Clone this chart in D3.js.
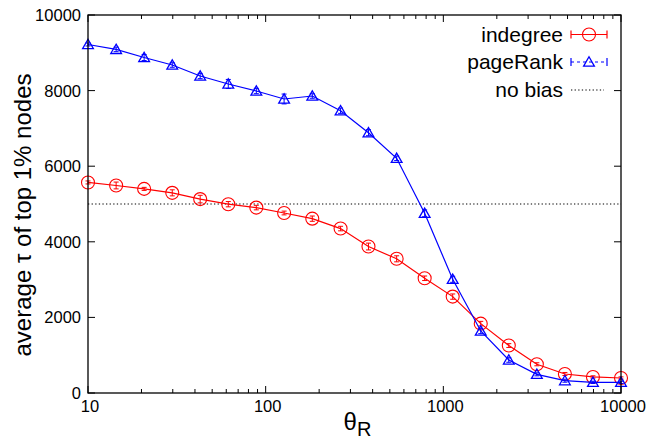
<!DOCTYPE html>
<html>
<head>
<meta charset="utf-8">
<script src="https://cdn.jsdelivr.net/npm/d3@7"></script>
<style>
  body { margin: 0; background: #fff; }
  text { font-family: "Liberation Sans", Arial, Helvetica, sans-serif; fill: #000; }
</style>
</head>
<body>
<div id="chart"></div>
<script>
// values
const thetaR = [10, 14.4, 20.7, 29.8, 42.8, 61.6, 88.6, 127, 183, 264, 379, 546, 785, 1129, 1624, 2336, 3360, 4833, 6952, 10000];
const indegree = [5570, 5490, 5400, 5295, 5130, 4995, 4905, 4762, 4612, 4350, 3875, 3550, 3035, 2550, 1835, 1255, 760, 503, 425, 397];
const indegreeErr = [40, 90, 40, 80, 100, 70, 60, 50, 70, 60, 90, 80, 60, 70, 60, 50, 40, 40, 30, 30];
const pageRank = [9220, 9090, 8875, 8677, 8386, 8175, 7989, 7778, 7857, 7468, 6886, 6209, 4754, 3008, 1640, 873, 494, 326, 282, 282];
const pageRankErr = [40, 60, 80, 60, 70, 120, 70, 130, 60, 70, 80, 60, 90, 80, 70, 60, 40, 40, 30, 30];
const noBias = 5000;
const xTicks = [10, 100, 1000, 10000];
const yTicks = [0, 2000, 4000, 6000, 8000, 10000];
const seriesNames = ["indegree", "pageRank", "no bias"];

const W = 649, H = 441;
const margin = { top: 15, right: 28, bottom: 48, left: 88 };
const width = W - margin.left - margin.right,
      height = H - margin.top - margin.bottom;

const svg = d3.select("#chart").append("svg")
    .attr("width", W).attr("height", H);
const g = svg.append("g")
    .attr("transform", "translate(" + margin.left + "," + margin.top + ")");

const x = d3.scaleLog().domain([10, 10000]).range([0, width]);
const y = d3.scaleLinear().domain([0, 10000]).range([height, 0]);

// minor ticks of the log axis
const minor = x.ticks().filter(v => xTicks.indexOf(v) < 0);

function tickLines(sel, vals, len, side) {
    sel.selectAll("line." + side + len).data(vals).enter().append("line")
        .attr("stroke", "#000").attr("stroke-width", 1)
        .attr("x1", d => side === "b" || side === "t" ? x(d) : (side === "l" ? 0 : width))
        .attr("x2", d => side === "b" || side === "t" ? x(d) : (side === "l" ? len : width - len))
        .attr("y1", d => side === "b" ? height : side === "t" ? 0 : y(d))
        .attr("y2", d => side === "b" ? height - len : side === "t" ? len : y(d));
}
tickLines(g, xTicks, 7, "b");
tickLines(g, minor, 4, "b");
tickLines(g, xTicks, 7, "t");
tickLines(g, minor, 4, "t");
tickLines(g, yTicks, 7, "l");
tickLines(g, yTicks, 7, "r");

// tick labels
g.selectAll(".xl").data(xTicks).enter().append("text")
    .attr("x", d => x(d) + 2).attr("y", height + 19)
    .attr("text-anchor", "middle").attr("font-size", 16.5)
    .text(d => d);
g.selectAll(".yl").data(yTicks).enter().append("text")
    .attr("x", -7).attr("y", d => y(d) + 6)
    .attr("text-anchor", "end").attr("font-size", 16.5)
    .text(d => d);

// axis titles
g.append("text")
    .attr("transform", "translate(-57," + (height / 2 + 11) + ") rotate(-90)")
    .attr("text-anchor", "middle").attr("font-size", 24)
    .text("average τ of top 1% nodes");
const xt = g.append("text")
    .attr("x", width / 2 + 3).attr("y", height + 37)
    .attr("text-anchor", "middle").attr("font-size", 24);
xt.append("tspan").text("θ");
xt.append("tspan").attr("font-size", 20).attr("dy", 6).text("R");

// no bias line
g.append("line")
    .attr("x1", 0).attr("x2", width)
    .attr("y1", y(noBias)).attr("y2", y(noBias))
    .attr("stroke", "#000").attr("stroke-width", 1.2)
    .attr("stroke-dasharray", "1.3,2.3");

const line = d3.line().x(d => x(d[0])).y(d => y(d[1]));

function errBars(vals, errs, color) {
    const eb = g.append("g").attr("stroke", color).attr("stroke-width", 1);
    thetaR.forEach((t, i) => {
        const cx = x(t), y0 = y(vals[i] - errs[i]), y1 = y(vals[i] + errs[i]);
        eb.append("line").attr("x1", cx).attr("x2", cx).attr("y1", y0).attr("y2", y1);
        eb.append("line").attr("x1", cx - 2.5).attr("x2", cx + 2.5).attr("y1", y0).attr("y2", y0);
        eb.append("line").attr("x1", cx - 2.5).attr("x2", cx + 2.5).attr("y1", y1).attr("y2", y1);
    });
}

const tri = d3.symbol().type(d3.symbolTriangle).size(50);

// indegree
g.append("path").datum(d3.zip(thetaR, indegree))
    .attr("d", line).attr("fill", "none")
    .attr("stroke", "#ff0000").attr("stroke-width", 1.2);
errBars(indegree, indegreeErr, "#ff0000");
g.selectAll(".c").data(d3.zip(thetaR, indegree)).enter().append("circle")
    .attr("cx", d => x(d[0])).attr("cy", d => y(d[1])).attr("r", 6.5)
    .attr("fill", "none").attr("stroke", "#ff0000").attr("stroke-width", 1.1);

// pageRank
g.append("path").datum(d3.zip(thetaR, pageRank))
    .attr("d", line).attr("fill", "none")
    .attr("stroke", "#0000ff").attr("stroke-width", 1.2);
errBars(pageRank, pageRankErr, "#0000ff");
g.selectAll(".t").data(d3.zip(thetaR, pageRank)).enter().append("path")
    .attr("d", tri)
    .attr("transform", d => "translate(" + x(d[0]) + "," + (y(d[1]) + 1) + ")")
    .attr("fill", "none").attr("stroke", "#0000ff").attr("stroke-width", 1.3);

// frame
g.append("rect").attr("width", width).attr("height", height)
    .attr("fill", "none").attr("stroke", "#000").attr("stroke-width", 1.3);

// legend
const lg = svg.append("g");
const rows = [34.5, 62, 90];
const lx0 = 571, lx1 = 607, lxm = (lx0 + lx1) / 2;
seriesNames.forEach((n, i) => {
    lg.append("text").attr("x", 563).attr("y", rows[i] + 7)
        .attr("text-anchor", "end").attr("font-size", 21)
        .text(n);
});
lg.append("line").attr("x1", lx0).attr("x2", lx1).attr("y1", rows[0]).attr("y2", rows[0])
    .attr("stroke", "#ff0000").attr("stroke-width", 1.2);
lg.append("line").attr("x1", lx0).attr("x2", lx1).attr("y1", rows[1]).attr("y2", rows[1])
    .attr("stroke", "#0000ff").attr("stroke-width", 1.2).attr("stroke-dasharray", "3,3");
[[0, "#ff0000"], [1, "#0000ff"]].forEach(([i, c]) => {
    [lx0, lx1].forEach(xx => lg.append("line")
        .attr("x1", xx).attr("x2", xx).attr("y1", rows[i] - 4).attr("y2", rows[i] + 4)
        .attr("stroke", c).attr("stroke-width", 1.2));
});
lg.append("circle").attr("cx", lxm).attr("cy", rows[0]).attr("r", 6.5)
    .attr("fill", "none").attr("stroke", "#ff0000").attr("stroke-width", 1.1);
lg.append("path").attr("d", tri)
    .attr("transform", "translate(" + lxm + "," + (rows[1] + 1) + ")")
    .attr("fill", "none").attr("stroke", "#0000ff").attr("stroke-width", 1.3);
lg.append("line").attr("x1", lx0).attr("x2", lx1 - 3).attr("y1", rows[2]).attr("y2", rows[2])
    .attr("stroke", "#000").attr("stroke-width", 1.2).attr("stroke-dasharray", "1.3,2.3");
</script>
</body>
</html>
